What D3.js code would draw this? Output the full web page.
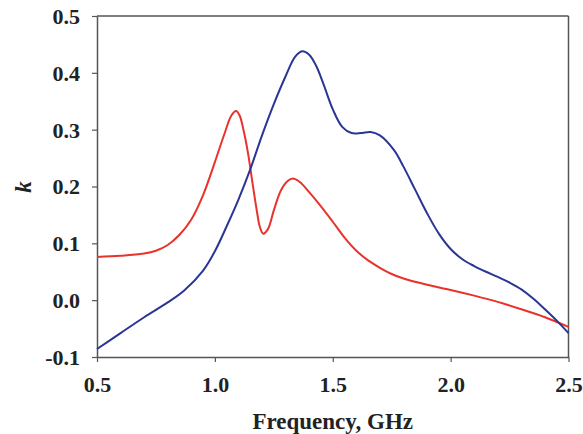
<!DOCTYPE html>
<html><head><meta charset="utf-8">
<script src="https://cdn.jsdelivr.net/npm/d3@7"></script>
<style>body{margin:0;background:#fff}svg{display:block}
text{font-family:"Liberation Serif","Times New Roman",serif !important;}</style>
</head><body>
<script>
const freqBlue = [0.5,0.6,0.7,0.8,0.87,0.95,1.0,1.05,1.1,1.15,1.2,1.25,1.3,1.34,1.37,1.4,1.43,1.46,1.5,1.54,1.58,1.62,1.66,1.7,1.76,1.8,1.85,1.9,1.95,2.0,2.05,2.1,2.15,2.2,2.25,2.3,2.35,2.4,2.45,2.5];
const kBlue = [-0.086,-0.058,-0.030,-0.004,0.017,0.052,0.086,0.13,0.177,0.23,0.29,0.345,0.394,0.428,0.438,0.432,0.412,0.381,0.336,0.305,0.294,0.294,0.296,0.29,0.264,0.235,0.194,0.153,0.117,0.09,0.072,0.06,0.05,0.041,0.031,0.019,0.003,-0.016,-0.036,-0.058];
const freqRed = [0.5,0.6,0.7,0.75,0.8,0.85,0.9,0.95,1.0,1.04,1.07,1.09,1.105,1.12,1.14,1.16,1.18,1.19,1.205,1.225,1.25,1.28,1.31,1.33,1.36,1.4,1.45,1.5,1.55,1.6,1.65,1.7,1.75,1.8,1.9,2.0,2.1,2.2,2.3,2.4,2.5];
const kRed = [0.076,0.078,0.082,0.087,0.097,0.115,0.142,0.185,0.243,0.292,0.325,0.333,0.325,0.302,0.26,0.205,0.152,0.13,0.117,0.125,0.158,0.193,0.21,0.214,0.208,0.19,0.165,0.138,0.11,0.087,0.07,0.057,0.046,0.038,0.027,0.018,0.008,-0.003,-0.016,-0.03,-0.047];
const xTicks = [0.5,1.0,1.5,2.0,2.5];
const yTicks = [-0.1,0.0,0.1,0.2,0.3,0.4,0.5];

const W=583,H=434;
const m={left:97,right:14.5,top:16,bottom:77};
const svg=d3.select("body").append("svg").attr("width",W).attr("height",H);
const x=d3.scaleLinear().domain([0.5,2.5]).range([m.left,W-m.right]);
const y=d3.scaleLinear().domain([-0.1,0.5]).range([H-m.bottom,m.top]);
const font="'Liberation Serif','Times New Roman',serif";
const axColor="#555";
const fmt=d=>d3.format(".1f")(d).replace("\u2212","-");

svg.append("line").attr("x1",x(0.5)).attr("x2",x(2.5)).attr("y1",y(0.5)).attr("y2",y(0.5)).attr("stroke",axColor).attr("stroke-width",1.5);
svg.append("line").attr("x1",x(2.5)).attr("x2",x(2.5)).attr("y1",y(0.5)).attr("y2",y(-0.1)).attr("stroke",axColor).attr("stroke-width",1.5);

const xa=svg.append("g").attr("transform",`translate(0,${y(-0.1)})`)
 .call(d3.axisBottom(x).tickValues(xTicks).tickFormat(fmt).tickSize(5).tickSizeOuter(0).tickPadding(14));
const ya=svg.append("g").attr("transform",`translate(${x(0.5)},0)`)
 .call(d3.axisLeft(y).tickValues(yTicks).tickFormat(fmt).tickSize(5).tickSizeOuter(0).tickPadding(12));
[xa,ya].forEach(g=>{
  g.attr("font-family",font);
  g.select(".domain").attr("stroke",axColor).attr("stroke-width",1.5);
  g.selectAll(".tick line").attr("stroke",axColor).attr("stroke-width",1.2);
  g.selectAll("text").style("font-family",font).attr("font-weight","bold").attr("font-size",22).attr("fill","#222");
});
ya.selectAll("text").attr("dy","0.34em");

const line=d3.line().x(d=>x(d[0])).y(d=>y(d[1])).curve(d3.curveCatmullRom.alpha(0.5));
svg.append("path").datum(freqRed.map((f,i)=>[f,kRed[i]])).attr("d",line).attr("fill","none").attr("stroke","#e8322c").attr("stroke-width",2);
svg.append("path").datum(freqBlue.map((f,i)=>[f,kBlue[i]])).attr("d",line).attr("fill","none").attr("stroke","#2b3595").attr("stroke-width",2);

svg.append("text").attr("x",(x(0.5)+x(2.5))/2).attr("y",429).attr("text-anchor","middle")
 .style("font-family",font).attr("font-weight","bold").attr("font-size",23).attr("fill","#222").text("Frequency, GHz");
svg.append("text").attr("transform",`translate(31,187) rotate(-90)`).attr("text-anchor","middle")
 .style("font-family",font).attr("font-weight","bold").attr("font-style","italic").attr("font-size",23).attr("fill","#222").text("k");
</script>
</body></html>
